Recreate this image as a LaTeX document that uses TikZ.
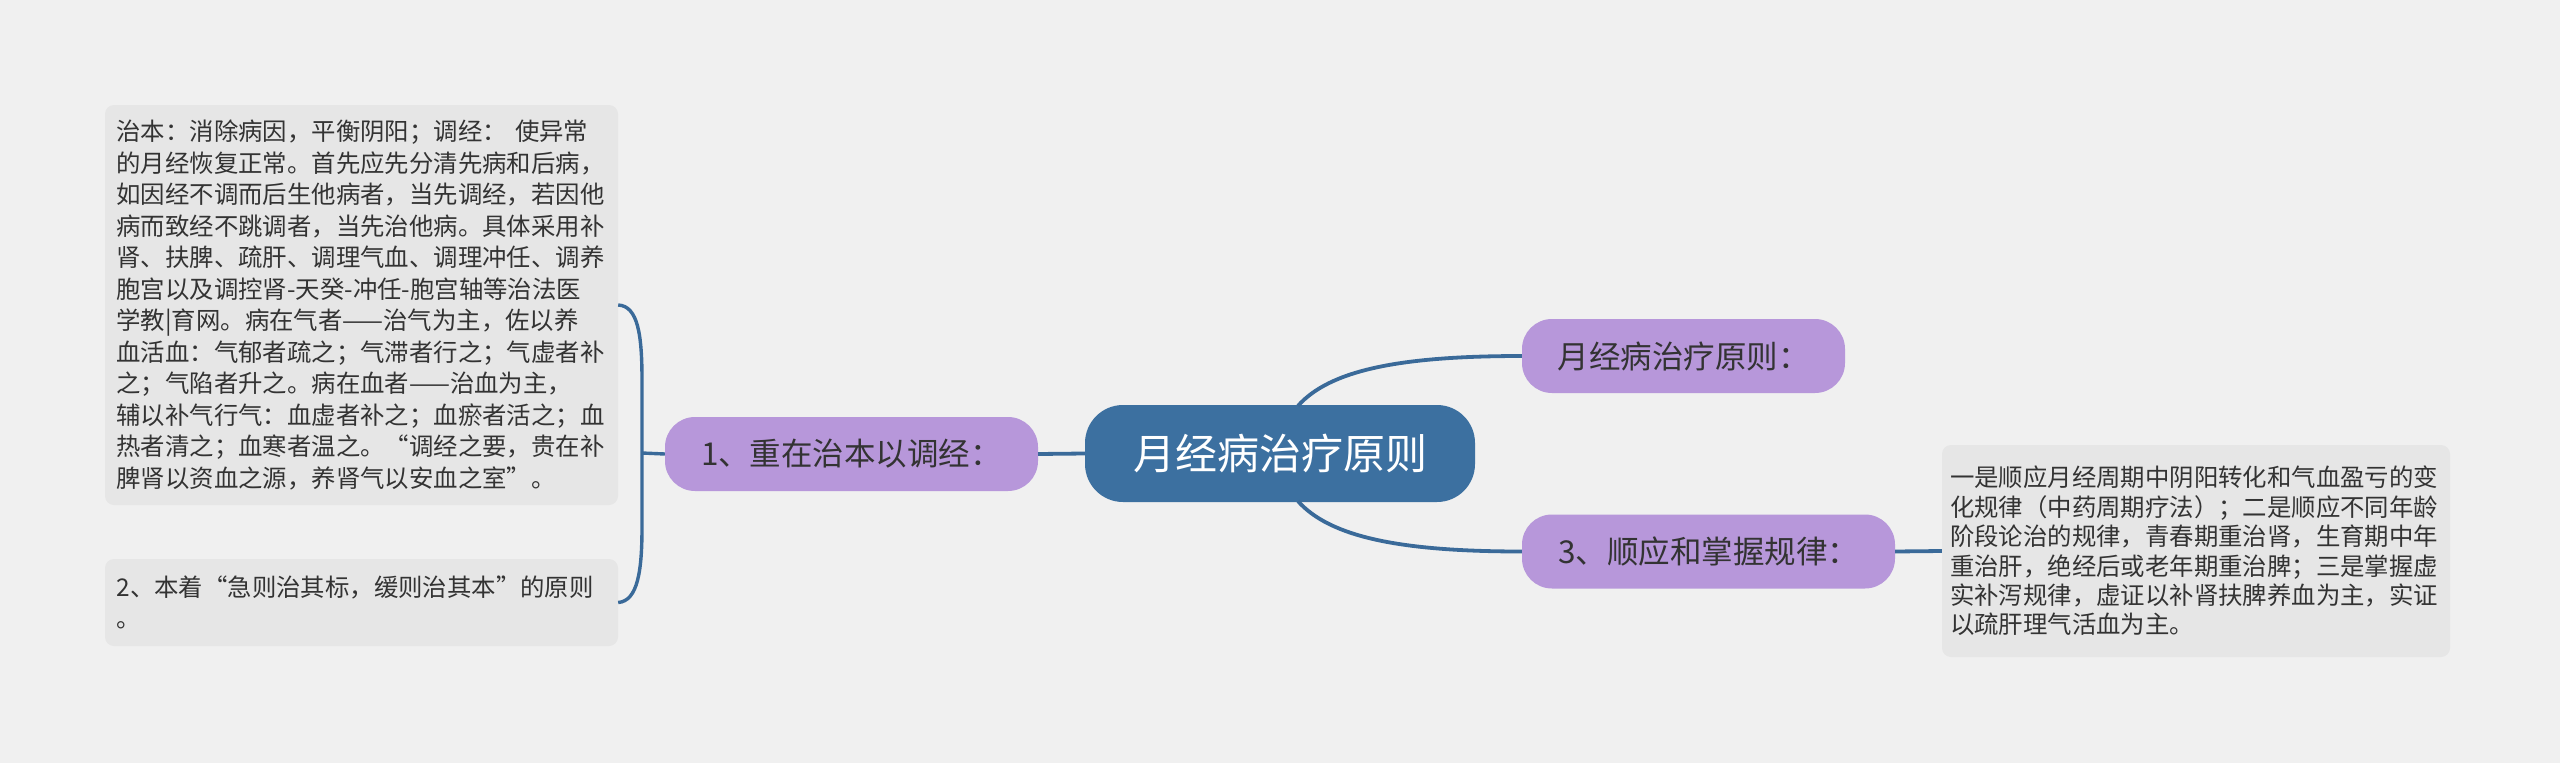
\documentclass[tikz,border=0pt]{standalone}
\usepackage{fontspec}
\newfontfamily\cjk{Noto Sans CJK SC}
\usetikzlibrary{calc}
\definecolor{bg}{HTML}{F0F0F0}
\definecolor{notegray}{HTML}{E6E6E6}
\definecolor{purp}{HTML}{B797DA}
\definecolor{cblue}{HTML}{3C70A0}
\definecolor{lineblue}{HTML}{3A6A99}
\definecolor{textdark}{HTML}{333333}
\tikzset{
  conn/.style={draw=lineblue, line width=3.8pt},
  topic/.style={fill=purp, rounded corners=30pt, minimum height=74pt, inner sep=0pt,
    font=\cjk\fontsize{31.5}{38}\selectfont, text=textdark},
  central/.style={fill=cblue, rounded corners=38pt, minimum width=390pt, minimum height=97pt,
    inner sep=0pt, font=\cjk\fontsize{42}{50}\selectfont, text=white},
  note/.style={fill=notegray, rounded corners=9pt, align=left, inner ysep=0pt,
    font=\cjk\fontsize{24.4}{31.5}\selectfont, text=textdark}
}
\begin{document}
\begin{tikzpicture}[x=1pt,y=-1pt]
\useasboundingbox (0,0) rectangle (2560,763);
\fill[bg] (0,0) rectangle (2560,763);

\node[central] (c) at (1280,453.5) {月经病治疗原则};
\node[topic, minimum width=373pt] (n1) at (851.5,454) {1、重在治本以调经：};
\node[topic, minimum width=323pt] (n2) at (1683.5,356) {月经病治疗原则：};
\node[topic, minimum width=373pt] (n3) at (1708.5,551.5) {3、顺应和掌握规律：};

\node[note, text width=490pt, inner xsep=11.5pt, minimum height=400pt] (b1) at (361.5,305) {%
治本：消除病因，平衡阴阳；调经：~使异常\\
的月经恢复正常。首先应先分清先病和后病，\\
如因经不调而后生他病者，当先调经，若因他\\
病而致经不跳调者，当先治他病。具体采用补\\
肾、扶脾、疏肝、调理气血、调理冲任、调养\\
胞宫以及调控肾-天癸-冲任-胞宫轴等治法医\\
学教|育网。病在气者——治气为主，佐以养\\
血活血：气郁者疏之；气滞者行之；气虚者补\\
之；气陷者升之。病在血者——治血为主，\\
辅以补气行气：血虚者补之；血瘀者活之；血\\
热者清之；血寒者温之。“调经之要，贵在补\\
脾肾以资血之源，养肾气以安血之室”。};

\node[note, text width=490pt, inner xsep=11.5pt, minimum height=87pt] (b2) at (361.5,602.5) {%
2、本着“急则治其标，缓则治其本”的原则\\
。};

\node[note, text width=492pt, inner xsep=8pt, minimum height=212pt,
  font=\cjk\fontsize{24.4}{29.4}\selectfont] (r) at (2196,551) {%
一是顺应月经周期中阴阳转化和气血盈亏的变\\
化规律（中药周期疗法）；二是顺应不同年龄\\
阶段论治的规律，青春期重治肾，生育期中年\\
重治肝，绝经后或老年期重治脾；三是掌握虚\\
实补泻规律，虚证以补肾扶脾养血为主，实证\\
以疏肝理气活血为主。};

\coordinate (j) at (642,453);
\draw[conn] (n1.east) -- (c.west);
\draw[conn] ($(c.north)+(18,1)$) .. controls (1330,370) and (1400,356) .. (n2.west);
\draw[conn] ($(c.south)+(18,-1)$) .. controls (1330,537) and (1400,551.5) .. (n3.west);
\draw[conn] (n3.east) -- (r.west);
\draw[conn, line width=3.4pt] (b1.east) .. controls (638,306) and (642,335) .. (642,380)
  -- (642,527) .. controls (642,570) and (638,601) .. (b2.east);
\draw[conn, line width=3.4pt] (j) -- (n1.west);
\end{tikzpicture}
\end{document}
